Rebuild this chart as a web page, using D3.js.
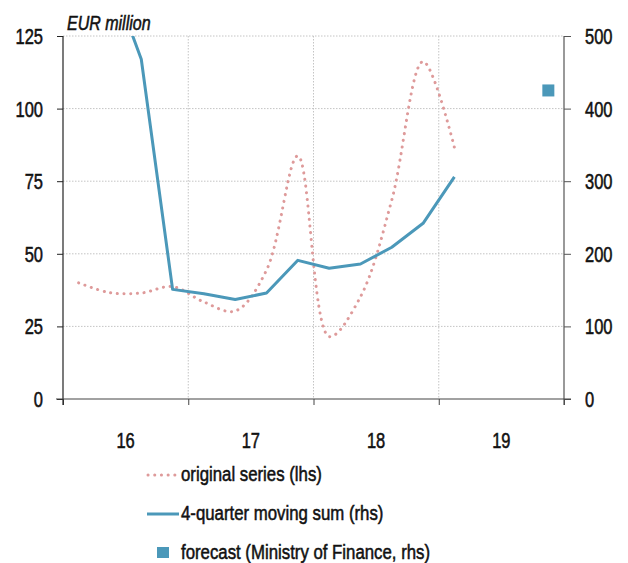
<!DOCTYPE html>
<html>
<head>
<meta charset="utf-8">
<script src="https://cdn.jsdelivr.net/npm/d3@7"></script>
<style>
  html, body { margin: 0; padding: 0; background: #fff; }
  svg { display: block; }
  text { font-family: "Liberation Sans", Arial, sans-serif; fill: #111; }
</style>
</head>
<body>
<svg id="chart" width="628" height="563"></svg>
<script>
// ---- data ----
const quarters = ["2016Q1","2016Q2","2016Q3","2016Q4","2017Q1","2017Q2","2017Q3","2017Q4","2018Q1","2018Q2","2018Q3","2018Q4","2019Q1"];
const originalSeries = [40.0, 36.6, 36.5, 38.7, 33.4, 30.3, 44.4, 83.7, 21.5, 35.2, 68.5, 116.2, 86.6];
const movingSum = [null, 585, 468, 151, 145, 137, 146, 191, 180, 186, 209, 242, 306];
const forecastQuarter = ["2019Q4"];
const forecastValue = [425];
const yearLabels = ["16", "17", "18", "19"];
const leftTicks = [0, 25, 50, 75, 100, 125];
const rightTicks = [0, 100, 200, 300, 400, 500];
const legendLabels = ["original series (lhs)", "4-quarter moving sum (rhs)", "forecast (Ministry of Finance, rhs)"];

// ---- layout ----
const L = 63, R = 564, T = 36, B = 399;
const blue = "#4b98b9", pink = "#de9a9a";
const SX = 0.75; // horizontal condensing of the text face

const svg = d3.select("#chart");
const qToTime = q => +q.slice(0,4) + (+q.slice(5) - 0.5) / 4;

const x = d3.scaleLinear().domain([2016, 2020]).range([L, R]);
const yL = d3.scaleLinear().domain([0, 125]).range([B, T]);
const yR = d3.scaleLinear().domain([0, 500]).range([B, T]);

function label(parent, px, py, txt, opts = {}) {
  const g = parent.append("g").attr("transform", `translate(${px},${py}) scale(${opts.sx || SX},1)`);
  const t = g.append("text").attr("text-anchor", opts.anchor || "start")
    .attr("dy", opts.dy || "0")
    .style("font-size", (opts.size || 21) + "px")
    .style("stroke", "#111").style("stroke-width", opts.sw != null ? opts.sw : 0.55)
    .text(txt);
  if (opts.italic) t.style("font-style", "italic");
  return t;
}

// gridlines
const grid = svg.append("g").attr("stroke", "#c4c4c4").attr("stroke-width", 1).attr("stroke-dasharray", "1.5,1.5");
leftTicks.filter(d => d > 0).forEach(d => {
  grid.append("line").attr("x1", L).attr("x2", R).attr("y1", yL(d)).attr("y2", yL(d));
});
[2017, 2018, 2019].forEach(yr => {
  grid.append("line").attr("x1", x(yr)).attr("x2", x(yr)).attr("y1", T).attr("y2", B);
});

// axes (tick marks via d3 axes, labels drawn below)
const axL = svg.append("g").attr("transform", `translate(${L},0)`)
  .call(d3.axisLeft(yL).tickValues(leftTicks).tickSize(6).tickFormat(""));
const axR = svg.append("g").attr("transform", `translate(${R},0)`)
  .call(d3.axisRight(yR).tickValues(rightTicks).tickSize(7).tickFormat(""));
const axB = svg.append("g").attr("transform", `translate(0,${B})`)
  .call(d3.axisBottom(x).tickValues([2016, 2017, 2018, 2019, 2020]).tickSize(6).tickFormat(""));
[axL, axR, axB].forEach(a => a.select(".domain").remove());
axL.selectAll("line").attr("stroke", "#222");
axR.selectAll("line").attr("stroke", "#555");
axB.selectAll("line").attr("stroke", "#444");
svg.append("line").attr("x1", L).attr("x2", L).attr("y1", T).attr("y2", B + 6).attr("stroke", "#222").attr("stroke-width", 1.2);
svg.append("line").attr("x1", R).attr("x2", R).attr("y1", T).attr("y2", B + 6).attr("stroke", "#555").attr("stroke-width", 1.2);
svg.append("line").attr("x1", L - 7).attr("x2", R + 7).attr("y1", B).attr("y2", B).attr("stroke", "#444").attr("stroke-width", 1.2);

// tick labels
const labs = svg.append("g");
leftTicks.forEach(d => label(labs, 43, yL(d), d3.format("d")(d), { anchor: "end", dy: "0.36em", size: 22 }));
rightTicks.forEach(d => label(labs, 585, yR(d), d3.format("d")(d), { anchor: "start", dy: "0.36em", size: 22 }));
yearLabels.forEach((d, i) => label(labs, x(2016 + i + 0.5), 440, d, { anchor: "middle", dy: "0.36em", size: 22 }));

// unit label
label(svg, 67, 30, "EUR million", { italic: true, size: 20, sx: 0.8 });

// clip
svg.append("clipPath").attr("id", "plotclip").append("rect").attr("x", L).attr("y", T).attr("width", R - L).attr("height", B - T);

// original series (dotted, smooth)
const lineL = d3.line().x((d, i) => x(qToTime(quarters[i]))).y(d => yL(d)).curve(d3.curveCatmullRom.alpha(0.5));
svg.append("path").datum(originalSeries).attr("d", lineL)
  .attr("fill", "none").attr("stroke", pink).attr("stroke-width", 3)
  .attr("stroke-linecap", "round").attr("stroke-dasharray", "0.1,6.6");

// moving sum
const lineR = d3.line().defined(d => d != null).x((d, i) => x(qToTime(quarters[i]))).y(d => yR(d));
svg.append("path").datum(movingSum).attr("d", lineR).attr("clip-path", "url(#plotclip)")
  .attr("fill", "none").attr("stroke", blue).attr("stroke-width", 3).attr("stroke-linejoin", "round");

// forecast
svg.append("g").selectAll("rect").data(forecastValue).join("rect")
  .attr("x", (d, i) => x(qToTime(forecastQuarter[i])) - 6)
  .attr("y", d => yR(d) - 6).attr("width", 12).attr("height", 12).attr("fill", blue);

// legend
const lg = svg.append("g");
lg.append("line").attr("x1", 148).attr("x2", 178).attr("y1", 475).attr("y2", 475)
  .attr("stroke", pink).attr("stroke-width", 3).attr("stroke-linecap", "round").attr("stroke-dasharray", "0.1,6.6");
lg.append("line").attr("x1", 147).attr("x2", 179).attr("y1", 514).attr("y2", 514)
  .attr("stroke", blue).attr("stroke-width", 3);
lg.append("rect").attr("x", 157).attr("y", 547).attr("width", 12).attr("height", 11).attr("fill", blue);
legendLabels.forEach((d, i) => label(lg, 181, [475, 514, 553][i], d, { dy: "0.3em", size: 21, sx: 0.8 }));
</script>
</body>
</html>
